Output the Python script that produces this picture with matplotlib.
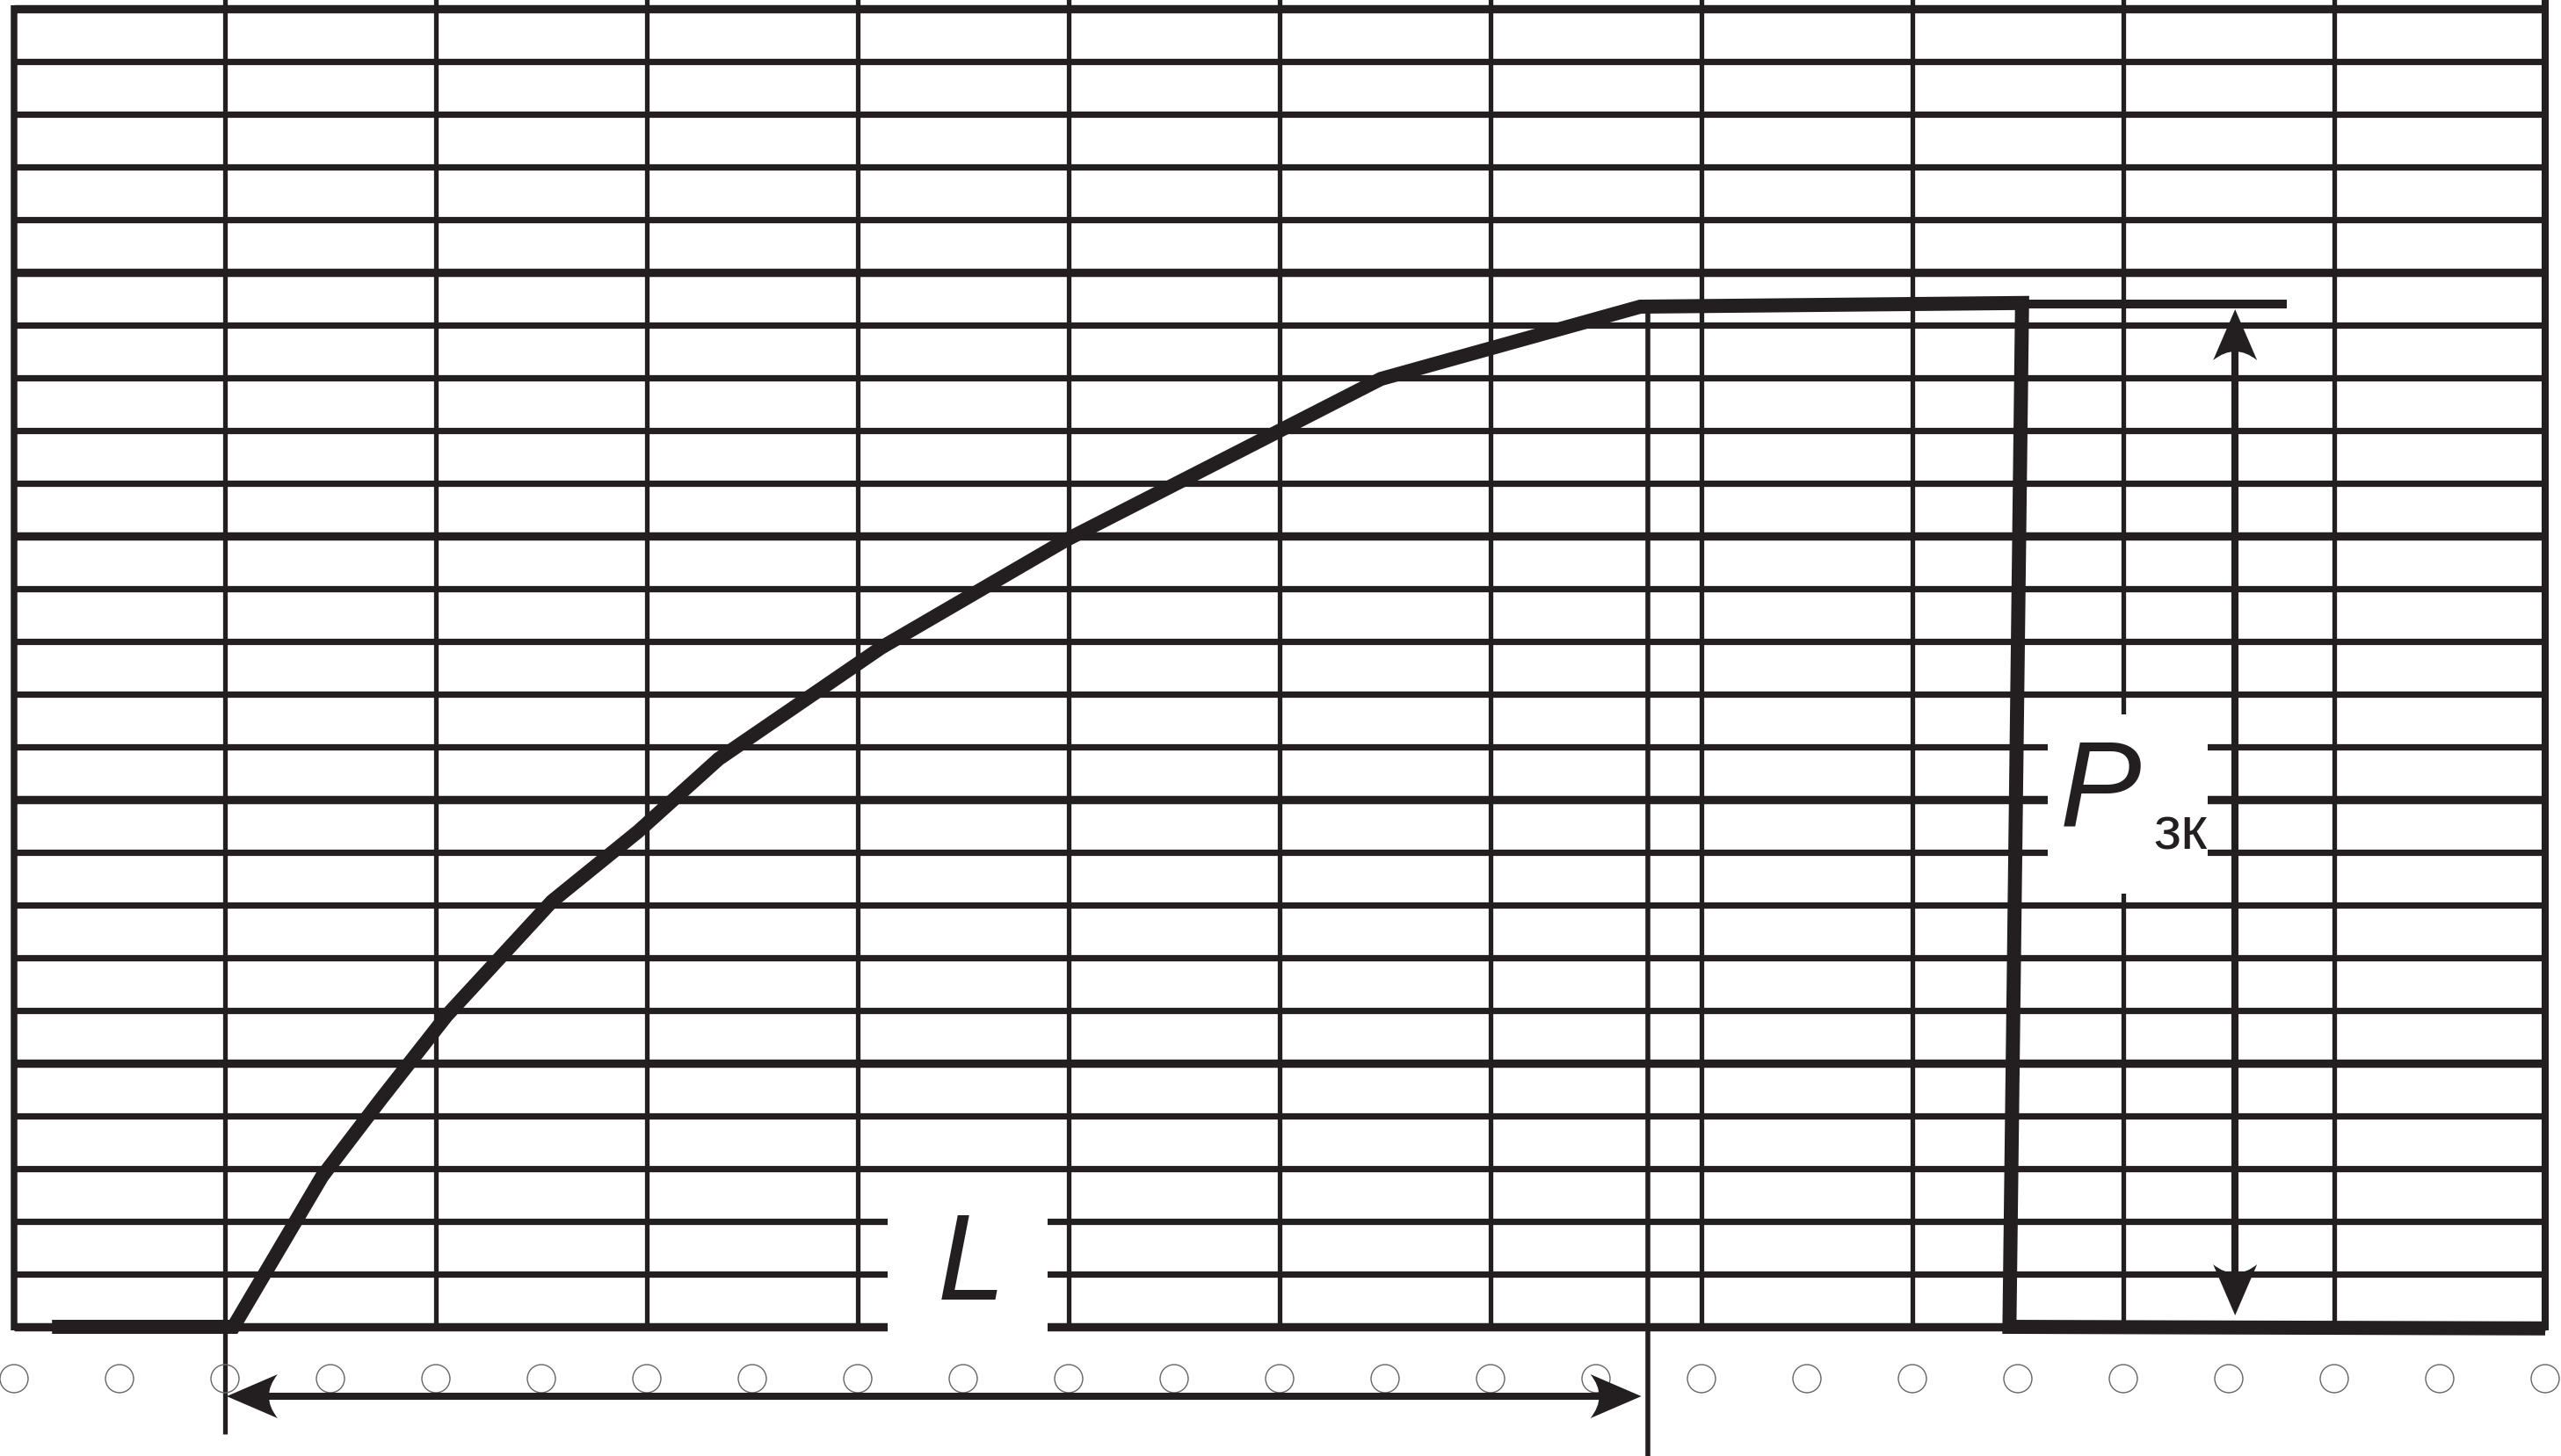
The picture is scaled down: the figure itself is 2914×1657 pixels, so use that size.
import numpy as np
import matplotlib
matplotlib.use("Agg")
import matplotlib.pyplot as plt
from matplotlib.path import Path
from matplotlib.patches import PathPatch, Rectangle

# chart recorder trace, in chart divisions (x = columns, y = rows)
trace_x = [0.18, 1.04, 1.46, 1.74, 2.05, 2.55, 2.96, 3.34, 4.11, 4.99, 6.48, 7.71, 9.52, 9.46, 12.0]
trace_y = [0.0, 0.0, 2.85, 4.32, 5.9, 8.07, 9.4, 10.77, 12.88, 14.93, 17.98, 19.35, 19.42, 0.0, -0.03]

# measured spans
L_start, L_end = 1.0, 7.745     # length L along the chart
P_level = 19.4                  # final pressure P_зк
P_col = 10.53                   # where the P arrow is drawn

n_cols = 12
n_rows = 25
ink = "#231f20"

# px per division (used only for arrow-head shapes)
PX_X, PX_Y = 240.0, 60.0

fig = plt.figure(figsize=(29.14, 16.58), dpi=100)
ax = fig.add_axes([0, 0, 1, 1])
ax.set_xlim(-16 / PX_X, (2914 - 16) / PX_X)
ax.set_ylim((1511 - 1658) / PX_Y, 1511 / PX_Y)
ax.axis("off")

# grid: horizontal lines (every 5th heavier)
for r in range(n_rows + 1):
    lw = 6.8 if r % 5 == 0 else 5.2
    ax.hlines(r, 0, n_cols, color=ink, lw=lw, zorder=1)

# vertical lines
for c in range(1, n_cols):
    bottom = -2.03 if c == 1 else 0
    ax.vlines(c, bottom, 25.4, color=ink, lw=3.8, zorder=1)
ax.vlines(0, -0.07, 25.07, color=ink, lw=5.4, zorder=1)
ax.vlines(n_cols, -0.07, 25.4, color=ink, lw=5.8, zorder=1)

# sprocket holes
holes = np.arange(0, n_cols + 0.01, 0.5)
ax.scatter(holes, np.full(len(holes), -0.983), s=530, facecolors="none",
           edgecolors="#666666", linewidths=1.0, zorder=2)

# blank areas behind the labels
ax.add_patch(Rectangle((4.142, -0.233), 0.758, 3.0, facecolor="white",
                       edgecolor="none", zorder=2))
ax.add_patch(Rectangle((9.642, 8.217), 0.758, 3.4, facecolor="white",
                       edgecolor="none", zorder=2))

# the trace
ax.plot(trace_x, trace_y, color=ink, lw=11.5, solid_joinstyle="miter",
        solid_capstyle="butt", zorder=3)

# end-of-L marker and P reference line
ax.vlines(L_end + 0.001, -2.6, 19.35, color=ink, lw=4.0, zorder=1)
ax.hlines(P_level, 9.54, 10.775, color=ink, lw=7.2, zorder=3)


def head(x, y, dx, dy):
    # concave arrow head with tip at (x, y), pointing along (dx, dy) in px space
    L, W, C = 58.0, 25.0, 38.0
    nx, ny = -dy, dx
    pts = [
        (0, 0),
        (-dx * L + nx * W, -dy * L + ny * W),
        (-dx * C, -dy * C),
        (-dx * L - nx * W, -dy * L - ny * W),
        (0, 0),
    ]
    verts = [(x + px / PX_X, y + py / PX_Y) for px, py in pts]
    codes = [Path.MOVETO, Path.LINETO, Path.CURVE3, Path.CURVE3, Path.CLOSEPOLY]
    ax.add_patch(PathPatch(Path(verts, codes), facecolor=ink, edgecolor="none", zorder=4))


# L arrow
yL = -1.317
ax.hlines(yL, L_start + 40 / PX_X, L_end - 40 / PX_X - 0.03, color=ink, lw=5.8, zorder=4)
head(L_start + 0.008, yL, -1, 0)
head(L_end - 0.03, yL, 1, 0)

# P arrow
top_tip, bot_tip = P_level - 0.1, 0.217
ax.vlines(P_col, bot_tip + 40 / PX_Y, top_tip - 40 / PX_Y, color=ink, lw=5.8, zorder=4)
head(P_col, top_tip, 0, 1)
head(P_col, bot_tip, 0, -1)

# labels
ax.text(4.5375, 0.533, "L", fontsize=100, style="italic", color=ink,
        family="Liberation Sans", ha="center", va="baseline", zorder=5)
ax.text(9.70, 9.533, "P", fontsize=100, style="italic", color=ink,
        family="Liberation Sans", ha="left", va="baseline", zorder=5)
ax.text(10.142, 9.083, "зк", fontsize=49, color=ink,
        family="Liberation Sans", ha="left", va="baseline", zorder=5)

fig.savefig("out.png", dpi=100, facecolor="white")
